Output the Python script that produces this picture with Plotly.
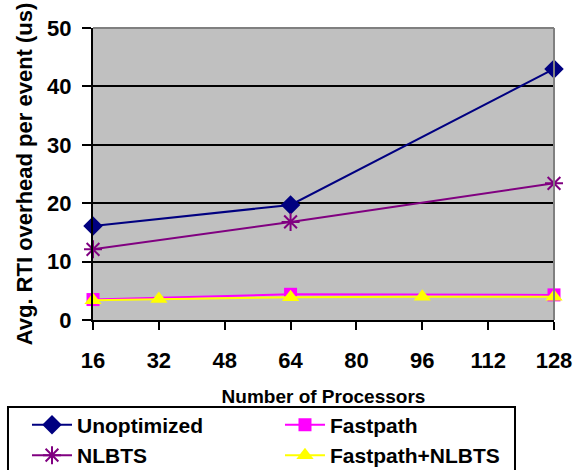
import plotly.graph_objects as go

processors = [16, 64, 128]
unoptimized = [16.1, 19.7, 43.0]
nlbts = [12.1, 16.8, 23.4]
fastpath = [3.5, 4.4, 4.3]

processors_fn = [16, 32, 64, 96, 128]
fastpath_nlbts = [3.4, 3.6, 3.9, 4.0, 4.0]

x_ticks = [16, 32, 48, 64, 80, 96, 112, 128]
y_ticks = [0, 10, 20, 30, 40, 50]

FONT = "Liberation Sans, Arial, sans-serif"

fig = go.Figure()
fig.add_trace(go.Scatter(
    x=processors, y=unoptimized, name="<b>Unoptimized</b>", mode="lines+markers",
    line=dict(color="#000080", width=2), cliponaxis=False,
    marker=dict(symbol="diamond", size=15, color="#000080")))
fig.add_trace(go.Scatter(
    x=processors, y=fastpath, name="<b>Fastpath</b>", mode="lines+markers",
    line=dict(color="#FF00FF", width=2), cliponaxis=False,
    marker=dict(symbol="square", size=13, color="#FF00FF")))
fig.add_trace(go.Scatter(
    x=processors, y=nlbts, name="<b>NLBTS</b>", mode="lines+markers",
    line=dict(color="#800080", width=2), cliponaxis=False,
    marker=dict(symbol="asterisk-open", size=15, line=dict(color="#800080", width=2))))
fig.add_trace(go.Scatter(
    x=processors_fn, y=fastpath_nlbts, name="<b>Fastpath+NLBTS</b>", mode="lines+markers",
    line=dict(color="#FFFF00", width=2), cliponaxis=False,
    marker=dict(symbol="triangle-up", size=15, color="#FFFF00")))

fig.update_layout(
    width=587, height=470,
    margin=dict(l=93, r=33, t=28, b=150, autoexpand=False),
    paper_bgcolor="white", plot_bgcolor="#C0C0C0",
    font=dict(family=FONT, color="black"),
    showlegend=True,
    legend=dict(
        orientation="h", x=-0.1432, y=-0.29, xanchor="left", yanchor="top",
        entrywidth=198, entrywidthmode="pixels",
        font=dict(size=21, family=FONT), bgcolor="rgba(0,0,0,0)",
        borderwidth=0, tracegroupgap=0, itemwidth=40,
    ),
    xaxis=dict(
        range=[16, 128], tickvals=x_ticks, ticktext=[f"<b>{v}</b>" for v in x_ticks],
        tickfont=dict(size=22), ticks="outside", ticklen=8, tickwidth=2, tickcolor="black",
        ticklabelstandoff=12,
        showgrid=False, zeroline=False, showline=True, linecolor="black", linewidth=2,
        title=dict(text="<b>Number of Processors</b>", font=dict(size=19), standoff=17),
    ),
    yaxis=dict(
        range=[0, 50], tickvals=y_ticks, ticktext=[f"<b>{v}</b>" for v in y_ticks],
        tickfont=dict(size=22), ticks="outside", ticklen=9, tickwidth=2, tickcolor="black",
        ticklabelstandoff=6,
        showgrid=True, gridcolor="black", gridwidth=2, zeroline=False,
        showline=True, linecolor="black", linewidth=2,
        title=dict(text="<b>Avg. RTI overhead per event (us)</b>", font=dict(size=22), standoff=8),
    ),
)

# grey frame along the top and right edges of the plotting area
fig.add_shape(type="line", xref="paper", yref="paper", x0=0, x1=1, y0=1, y1=1,
              line=dict(color="#808080", width=2))
fig.add_shape(type="line", xref="paper", yref="paper", x0=1, x1=1, y0=0, y1=1,
              line=dict(color="#808080", width=2))

# legend frame, running off the bottom edge of the figure
fig.add_shape(type="rect", xref="paper", yref="paper",
              x0=-0.1844, x1=0.9154, y0=-0.298, y1=-0.7,
              line=dict(color="black", width=2), fillcolor="rgba(0,0,0,0)", layer="below")

fig.write_html("out.html")
